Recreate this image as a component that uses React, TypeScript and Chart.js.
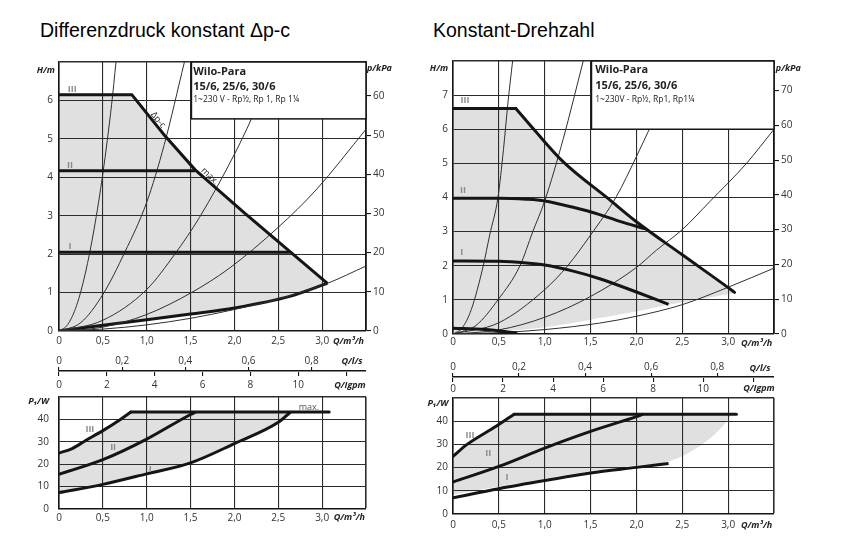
import React, { useEffect, useRef } from 'react';
import { Chart, registerables } from 'chart.js';

Chart.register(...registerables);

type Pt = [number, number];

// ================= DATA =================
// Q in m³/h, H in m, P1 in W
// ---- Left panel (Differenzdruck konstant Δp-c), head ----
const L_H_III: Pt[] = [[0, 6.15], [0.83, 6.15]];
const L_H_DPC: Pt[] = [[0.83, 6.15], [1.2, 5.1], [1.55, 4.2], [2.1, 3.1], [2.63, 2.07], [3.06, 1.24]];
const L_H_II: Pt[] = [[0, 4.17], [1.55, 4.17]];
const L_H_I: Pt[] = [[0, 2.05], [2.63, 2.05]];
const L_H_MIN: Pt[] = [[0, 0], [0.5, 0.15], [1.0, 0.29], [1.5, 0.44], [2.0, 0.6], [2.63, 0.9], [3.06, 1.24]];
const L_SYS_1: Pt[] = [[0, 0], [0.1, 0.17], [0.2, 0.66], [0.3, 1.5], [0.4, 2.65], [0.5, 4.1], [0.6, 5.9], [0.65, 7.0]];
const L_SYS_2: Pt[] = [[0, 0], [0.25, 0.22], [0.5, 0.95], [0.75, 2.05], [1.0, 3.35], [1.2, 4.85], [1.43, 7.0]];
const L_SYS_3: Pt[] = [[0, 0], [0.5, 0.28], [1.0, 1.08], [1.32, 2.0], [1.6, 2.95], [2.0, 4.6], [2.19, 5.5], [2.47, 7.0]];
const L_SYS_4: Pt[] = [[0, 0], [0.5, 0.1], [1.0, 0.43], [1.51, 1.0], [1.94, 1.63], [2.5, 2.7], [2.93, 3.67], [3.5, 5.25]];
const L_SYS_5: Pt[] = [[0, 0], [0.5, 0.05], [1.0, 0.16], [1.5, 0.33], [2.0, 0.56], [2.59, 0.89], [3.06, 1.24], [3.5, 1.69]];

// ---- Left panel, power input ----
const L_P_III: Pt[] = [[0, 25], [0.15, 27], [0.3, 30.5], [0.5, 35], [0.7, 40], [0.82, 43.3]];
const L_P_MAX: Pt[] = [[0.82, 43.3], [3.08, 43.3]];
const L_P_II: Pt[] = [[0, 15.5], [0.5, 22], [1.0, 31.2], [1.5, 42.2], [1.56, 43.3]];
const L_P_I: Pt[] = [[0, 7.3], [0.5, 11], [1.0, 15.7], [1.5, 20.6], [2.0, 29.2], [2.5, 38.7], [2.64, 43.3]];

// ---- Right panel (Konstant-Drehzahl), head ----
const R_H_III: Pt[] = [[0, 6.61], [0.685, 6.61]];
const R_H_MAX: Pt[] = [[0.685, 6.61], [0.89, 5.97], [1.2, 5.05], [1.7, 3.95], [2.0, 3.29], [2.5, 2.32], [3.0, 1.36], [3.07, 1.22]];
const R_H_II: Pt[] = [[0, 3.98], [0.5, 3.98], [0.8, 3.95], [1.0, 3.9], [1.3, 3.72], [1.6, 3.5], [1.82, 3.3], [2.1, 3.08]];
const R_H_I: Pt[] = [[0, 2.14], [0.5, 2.13], [0.8, 2.08], [1.0, 2.02], [1.3, 1.85], [1.6, 1.62], [2.0, 1.23], [2.35, 0.87]];
const R_H_ZERO: Pt[] = [[0, 0.17], [0.35, 0.13], [0.7, 0.03]];
const R_H_AREA_LOW: Pt[] = [[0, 0.05], [0.5, 0.08], [1.0, 0.2], [1.6, 0.47], [2.0, 0.66], [2.35, 0.86], [2.7, 1.02], [3.07, 1.2]];
const R_SYS_1: Pt[] = [[0, 0], [0.1, 0.18], [0.2, 0.72], [0.33, 2.0], [0.4, 2.9], [0.49, 4.0], [0.55, 5.4], [0.6, 6.8], [0.65, 8.0]];
const R_SYS_2: Pt[] = [[0, 0], [0.25, 0.25], [0.49, 1.0], [0.73, 2.0], [0.87, 3.0], [1.0, 3.9], [1.2, 5.7], [1.42, 8.0]];
const R_SYS_3: Pt[] = [[0, 0], [0.5, 0.33], [1.0, 1.3], [1.25, 2.0], [1.5, 2.9], [1.78, 4.02], [2.0, 5.2], [2.13, 5.94], [2.3, 6.9], [2.48, 8.0]];
const R_SYS_4: Pt[] = [[0, 0], [0.5, 0.12], [1.0, 0.49], [1.5, 1.1], [2.0, 1.95], [2.22, 2.46], [2.5, 3.06], [2.8, 3.88], [3.2, 5.0], [3.5, 6.0]];
const R_SYS_5: Pt[] = [[0, 0], [0.5, 0.04], [1.0, 0.13], [1.6, 0.32], [2.0, 0.52], [2.5, 0.86], [3.0, 1.37], [3.5, 1.93]];

// ---- Right panel, power input ----
const R_P_III: Pt[] = [[0, 24.8], [0.15, 29.9], [0.47, 37.8], [0.666, 43]];
const R_P_MAX: Pt[] = [[0.666, 43], [3.09, 43]];
const R_P_II: Pt[] = [[0, 13.8], [0.5, 20.5], [1.0, 28.4], [1.5, 35.6], [2.0, 42], [2.07, 43]];
const R_P_I: Pt[] = [[0, 7], [0.5, 10.9], [1.0, 14.4], [1.5, 17.7], [2.0, 20.1], [2.35, 21.8]];
const R_P_AREA_LOW: Pt[] = [[0, 8.3], [0.5, 11.8], [1.0, 15.2], [1.5, 18.4], [2.0, 20.9], [2.35, 22.6], [2.6, 27], [2.8, 32.5], [2.97, 39.2], [3.04, 43]];

// ---- Axis ranges / unit conversions ----
const Q_MAX = 3.5;
const L_H_MAX = 7;
const R_H_MAX_AX = 8;
const P_MAX = 50;
const KPA_PER_M = 9.81;
const LS_PER_M3H = 1 / 3.6;
const IGPM_PER_M3H = 3.666;

// ================= STYLE =================
const INK = '#151515';
const THIN_C = '#303030';
const GRID_C = '#2c2c2c';
const GRAY = '#e0e0e0';
const LABEL_GRAY = '#8a8a8a';
const TICK_C = '#333';
const FONT = '"Open Sans", "DejaVu Sans", sans-serif';
const TICK_FONT = { family: FONT, size: 10 };
const AX_F = `italic bold 9px ${FONT}`;
const ROMAN_F = `bold 9px ${FONT}`;
const SMALL_F = `9px ${FONT}`;
const BOX_B = `bold 11px ${FONT}`;
const BOX_S = `8.5px ${FONT}`;

type Area = { l: number; t: number; r: number; b: number };
type Margins = { l: number; r: number; t: number; b: number };
type Ann = { t: string; x: number; y: number; f: string; c?: string; rot?: number; al?: CanvasTextAlign; xs?: string; ys?: string };
type Box = { x0: number; x1: number; y0: number; y1: number };

const fmtDec = (v: number) => (Math.abs(v) < 1e-9 ? '0' : (Math.round(v * 10) / 10).toFixed(1).replace('.', ','));

const pts = (a: Pt[]) => a.map(([x, y]) => ({ x, y }));
const thick = (a: Pt[], extra: any = {}) => ({
  data: pts(a), borderColor: INK, borderWidth: 3, pointRadius: 0,
  tension: 0, fill: false, borderJoinStyle: 'miter', borderCapStyle: 'butt', ...extra,
});
const curve = (a: Pt[], extra: any = {}) => thick(a, { cubicInterpolationMode: 'monotone', ...extra });
const thin = (a: Pt[]) => ({
  data: pts(a), borderColor: THIN_C, borderWidth: 1, pointRadius: 0, fill: false, cubicInterpolationMode: 'monotone',
});
const hidden = (a: Pt[], extra: any = {}) => ({
  data: pts(a), borderColor: 'transparent', backgroundColor: GRAY, borderWidth: 0, pointRadius: 0, fill: false,
  cubicInterpolationMode: 'monotone', ...extra,
});

// Grey operating area: the upper envelope (hidden, straight segments) is filled down to the
// lower boundary, which is placed last so its curve is prepared before the fill is painted.
function withArea(lines: any[], upper: Pt[], lower: any) {
  const target = lines.length + 1;
  const up = hidden(upper, { cubicInterpolationMode: 'default', tension: 0, fill: target });
  return [up, ...lines, lower];
}

function annotate(anns: Ann[], box?: Box) {
  return {
    id: 'annotate',
    afterDatasetsDraw(chart: any) {
      if (!box) return;
      const { ctx, scales } = chart;
      const l = scales.x.getPixelForValue(box.x0);
      const r = scales.x.getPixelForValue(box.x1);
      const t = scales.y.getPixelForValue(box.y1);
      const b = scales.y.getPixelForValue(box.y0);
      ctx.save();
      ctx.fillStyle = '#fff';
      ctx.fillRect(l, t, r - l, b - t);
      ctx.strokeStyle = INK;
      ctx.lineWidth = 1.5;
      ctx.strokeRect(l, t, r - l, b - t);
      ctx.restore();
    },
    afterDraw(chart: any) {
      const { ctx, scales, chartArea } = chart;
      for (const a of anns) {
        const px = scales[a.xs || 'x'].getPixelForValue(a.x);
        const py = a.ys === 'px' ? chartArea.top + a.y : scales[a.ys || 'y'].getPixelForValue(a.y);
        ctx.save();
        ctx.translate(px, py);
        if (a.rot) ctx.rotate((a.rot * Math.PI) / 180);
        ctx.font = a.f;
        ctx.fillStyle = a.c || '#222';
        ctx.textAlign = a.al || 'center';
        ctx.textBaseline = 'middle';
        ctx.fillText(a.t, 0, 0);
        ctx.restore();
      }
    },
  };
}

const frameW = (max: number) => (ctx: any) => (ctx.tick && Math.abs(ctx.tick.value - max) < 1e-9 ? 1.6 : 1.1);

function xAxisQ(m: Margins, pad: number) {
  return {
    type: 'linear', position: 'bottom', min: 0, max: Q_MAX,
    ticks: {
      stepSize: 0.5, autoSkip: false, maxRotation: 0, padding: pad, font: TICK_FONT, color: TICK_C,
      callback: (v: number) => (Math.abs(v - Q_MAX) < 1e-9 ? '' : fmtDec(v)),
    },
    grid: { color: GRID_C, lineWidth: frameW(Q_MAX), drawTicks: false },
    border: { display: true, color: INK, width: 1.6 },
    afterFit: (s: any) => { s.height = m.b; },
  };
}

function yAxisL(max: number, step: number, m: Margins, pad: number) {
  return {
    type: 'linear', position: 'left', min: 0, max,
    ticks: {
      stepSize: step, autoSkip: false, padding: pad, font: TICK_FONT, color: TICK_C,
      callback: (v: number) => (Math.abs(v - max) < 1e-9 ? '' : String(v)),
    },
    grid: { color: GRID_C, lineWidth: frameW(max), drawTicks: false },
    border: { display: true, color: INK, width: 1.6 },
    afterFit: (s: any) => { s.width = m.l; },
  };
}

function yAxisKpa(hMax: number, m: Margins) {
  return {
    type: 'linear', position: 'right', min: 0, max: hMax * KPA_PER_M,
    ticks: { stepSize: 10, includeBounds: false, autoSkip: false, padding: 2, font: TICK_FONT, color: TICK_C },
    grid: { drawOnChartArea: false, drawTicks: true, tickLength: 5, color: INK, lineWidth: 1.1 },
    border: { display: true, color: INK, width: 1.6 },
    afterFit: (s: any) => { s.width = m.r; },
  };
}

const basePlugins = { legend: { display: false }, tooltip: { enabled: false }, filler: { drawTime: 'beforeDraw' } };

function headConfig(datasets: any[], hMax: number, m: Margins, xPad: number, yPad: number, anns: Ann[], box: Box) {
  return {
    type: 'line',
    data: { datasets },
    options: {
      responsive: false, animation: false, devicePixelRatio: 1,
      layout: { padding: { top: m.t, left: 0, right: 0, bottom: 0 } },
      plugins: basePlugins,
      scales: { x: xAxisQ(m, xPad), y: yAxisL(hMax, 1, m, yPad), y2: yAxisKpa(hMax, m) },
    },
    plugins: [annotate(anns, box)],
  };
}

function powerConfig(datasets: any[], m: Margins, xPad: number, yPad: number, anns: Ann[]) {
  return {
    type: 'line',
    data: { datasets },
    options: {
      responsive: false, animation: false, devicePixelRatio: 1,
      layout: { padding: { top: m.t, left: 0, right: m.r, bottom: 0 } },
      plugins: basePlugins,
      scales: { x: xAxisQ(m, xPad), y: yAxisL(P_MAX, 10, m, yPad) },
    },
    plugins: [annotate(anns)],
  };
}

function stripConfig(m: Margins, padTop: number, padBottom: number, anns: Ann[]) {
  return {
    type: 'line',
    data: { datasets: [] },
    options: {
      responsive: false, animation: false, devicePixelRatio: 1,
      layout: { padding: { top: 0, left: m.l, right: m.r, bottom: 0 } },
      plugins: basePlugins,
      scales: {
        ls: {
          type: 'linear', axis: 'x', position: 'top', min: 0, max: Q_MAX * LS_PER_M3H,
          ticks: { stepSize: 0.2, includeBounds: false, autoSkip: false, maxRotation: 0, padding: padTop, font: TICK_FONT, color: TICK_C, callback: (v: number) => fmtDec(v) },
          grid: { drawOnChartArea: false, drawTicks: true, tickLength: 4, color: INK, lineWidth: 1.1 },
          border: { display: true, color: INK, width: 1.5 },
          afterFit: (s: any) => { s.height = m.t; },
        },
        gpm: {
          type: 'linear', axis: 'x', position: 'bottom', min: 0, max: Q_MAX * IGPM_PER_M3H,
          ticks: { stepSize: 2, includeBounds: false, autoSkip: false, maxRotation: 0, padding: padBottom, font: TICK_FONT, color: TICK_C, callback: (v: number) => (v > 11 ? '' : String(v)) },
          grid: { drawOnChartArea: false, drawTicks: true, tickLength: 4, color: INK, lineWidth: 1.1 },
          border: { display: false },
          afterFit: (s: any) => { s.height = m.b; },
        },
      },
    },
    plugins: [annotate(anns)],
  };
}

// ================= LAYOUT / ANNOTATIONS =================
const UL_AREA: Area = { l: 59, t: 62, r: 366, b: 331 };
const LS_AREA: Area = { l: 59, t: 371, r: 366, b: 372 };
const LL_AREA: Area = { l: 59, t: 393, r: 366, b: 509 };
const UR_AREA: Area = { l: 453, t: 61, r: 774, b: 334 };
const RS_AREA: Area = { l: 453, t: 377, r: 774, b: 378 };
const LR_AREA: Area = { l: 453, t: 398, r: 774, b: 514 };

const M_HEAD: Margins = { l: 45, r: 45, t: 12, b: 24 };
const M_POW: Margins = { l: 45, r: 45, t: 12, b: 22 };
const M_STRIP: Margins = { l: 45, r: 45, t: 18, b: 18 };

const UL_BOX: Box = { x0: 1.51, x1: Q_MAX, y0: 5.52, y1: L_H_MAX };
const UR_BOX: Box = { x0: 1.51, x1: Q_MAX, y0: 6.0, y1: R_H_MAX_AX };

const UL_ANN: Ann[] = [
  { t: 'H/m', x: -0.15, y: 6.79, f: AX_F },
  { t: 'p/kPa', x: 3.51, y: 6.84, f: AX_F, al: 'left' },
  { t: 'Q/m³/h', x: 3.3, y: -0.26, f: AX_F },
  { t: 'III', x: 0.15, y: 6.29, f: ROMAN_F, c: LABEL_GRAY },
  { t: 'II', x: 0.125, y: 4.32, f: ROMAN_F, c: LABEL_GRAY },
  { t: 'I', x: 0.125, y: 2.19, f: ROMAN_F, c: LABEL_GRAY },
  { t: 'Δp-c', x: 1.13, y: 5.49, f: SMALL_F, rot: 50 },
  { t: 'max.', x: 1.72, y: 4.03, f: SMALL_F, rot: 44 },
  { t: 'Wilo-Para', x: 1.53, y: 6.75, f: BOX_B, al: 'left' },
  { t: '15/6, 25/6, 30/6', x: 1.53, y: 6.36, f: BOX_B, al: 'left' },
  { t: '1~230 V - Rp½, Rp 1, Rp 1¼', x: 1.53, y: 6.03, f: BOX_S, al: 'left' },
];
const UR_ANN: Ann[] = [
  { t: 'H/m', x: -0.153, y: 7.78, f: AX_F },
  { t: 'p/kPa', x: 3.52, y: 7.78, f: AX_F, al: 'left' },
  { t: 'Q/m³/h', x: 3.31, y: -0.29, f: AX_F },
  { t: 'III', x: 0.13, y: 6.83, f: ROMAN_F, c: LABEL_GRAY },
  { t: 'II', x: 0.11, y: 4.22, f: ROMAN_F, c: LABEL_GRAY },
  { t: 'I', x: 0.095, y: 2.38, f: ROMAN_F, c: LABEL_GRAY },
  { t: 'Wilo-Para', x: 1.55, y: 7.74, f: BOX_B, al: 'left' },
  { t: '15/6, 25/6, 30/6', x: 1.55, y: 7.28, f: BOX_B, al: 'left' },
  { t: '1~230V - Rp½, Rp1, Rp1¼', x: 1.55, y: 6.88, f: BOX_S, al: 'left' },
];
const LL_ANN: Ann[] = [
  { t: 'P₁/W', x: -0.233, y: 47.8, f: AX_F },
  { t: 'Q/m³/h', x: 3.31, y: -3.9, f: AX_F },
  { t: 'III', x: 0.352, y: 35.5, f: ROMAN_F, c: LABEL_GRAY },
  { t: 'II', x: 0.617, y: 27.6, f: ROMAN_F, c: LABEL_GRAY },
  { t: 'I', x: 1.04, y: 17.8, f: ROMAN_F, c: LABEL_GRAY },
  { t: 'max.', x: 2.85, y: 45.2, f: SMALL_F, c: '#555' },
];
const LR_ANN: Ann[] = [
  { t: 'P₁/W', x: -0.164, y: 47.8, f: AX_F },
  { t: 'Q/m³/h', x: 3.31, y: -5.0, f: AX_F },
  { t: 'III', x: 0.185, y: 34, f: ROMAN_F, c: LABEL_GRAY },
  { t: 'II', x: 0.385, y: 26.2, f: ROMAN_F, c: LABEL_GRAY },
  { t: 'I', x: 0.59, y: 15.6, f: ROMAN_F, c: LABEL_GRAY },
];
const LS_ANN: Ann[] = [
  { t: 'Q/l/s', x: 0.928, xs: 'ls', y: -10, ys: 'px', f: AX_F },
  { t: 'Q/Igpm', x: 12.16, xs: 'gpm', y: 14, ys: 'px', f: AX_F },
];
const RS_ANN: Ann[] = [
  { t: 'Q/l/s', x: 0.93, xs: 'ls', y: -9, ys: 'px', f: AX_F },
  { t: 'Q/Igpm', x: 12.23, xs: 'gpm', y: 11, ys: 'px', f: AX_F },
];

// ================= CHART BUILDERS =================
const makeUL = (m: Margins) =>
  headConfig(
    withArea(
      [
        thick([...L_H_III, ...L_H_DPC.slice(1)]),
        thick(L_H_II),
        thick(L_H_I),
        ...[L_SYS_1, L_SYS_2, L_SYS_3, L_SYS_4, L_SYS_5].map(thin),
      ],
      [...L_H_III, ...L_H_DPC.slice(1)],
      curve(L_H_MIN),
    ),
    L_H_MAX, m, 4, 6, UL_ANN, UL_BOX,
  );

const makeUR = (m: Margins) =>
  headConfig(
    withArea(
      [
        thick(R_H_III, { borderCapStyle: 'round' }),
        curve(R_H_MAX, { borderCapStyle: 'round' }),
        curve(R_H_II),
        curve(R_H_I),
        curve(R_H_ZERO),
        ...[R_SYS_1, R_SYS_2, R_SYS_3, R_SYS_4, R_SYS_5].map(thin),
      ],
      [...R_H_III, ...R_H_MAX.slice(1)],
      hidden(R_H_AREA_LOW),
    ),
    R_H_MAX_AX, m, 2, 5, UR_ANN, UR_BOX,
  );

const makeLL = (m: Margins) =>
  powerConfig(
    withArea(
      [curve(L_P_III, { borderCapStyle: 'round' }), thick(L_P_MAX, { borderCapStyle: 'round' }), curve(L_P_II)],
      [...L_P_III, ...L_P_MAX.slice(1)],
      curve(L_P_I),
    ),
    m, 3, 10, LL_ANN,
  );

const makeLR = (m: Margins) =>
  powerConfig(
    withArea(
      [curve(R_P_III, { borderCapStyle: 'round' }), thick(R_P_MAX, { borderCapStyle: 'round' }), curve(R_P_II), curve(R_P_I)],
      [...R_P_III, ...R_P_MAX.slice(1)],
      hidden(R_P_AREA_LOW),
    ),
    m, 5, 5, LR_ANN,
  );

const makeLS = (m: Margins) => stripConfig(m, 0, 3, LS_ANN);
const makeRS = (m: Margins) => stripConfig(m, 0, 1, RS_ANN);

function ChartBox({ area, m, make }: { area: Area; m: Margins; make: (m: Margins) => any }) {
  const ref = useRef<HTMLCanvasElement>(null);
  useEffect(() => {
    const c = new Chart(ref.current as HTMLCanvasElement, make(m));
    return () => c.destroy();
  }, []);
  const w = area.r - area.l + m.l + m.r;
  const h = area.b - area.t + m.t + m.b;
  return (
    <canvas
      ref={ref}
      width={w}
      height={h}
      style={{ position: 'absolute', left: area.l - m.l, top: area.t - m.t, width: w, height: h }}
    />
  );
}

const titleStyle: React.CSSProperties = {
  position: 'absolute',
  top: 20,
  fontFamily: '"Liberation Sans", Arial, sans-serif',
  fontSize: 19.5,
  lineHeight: '20px',
  color: '#000',
  whiteSpace: 'nowrap',
};

export default function App() {
  return (
    <div style={{ position: 'absolute', left: 0, top: 0, width: 847, height: 549, background: '#fff', overflow: 'hidden' }}>
      <div style={{ ...titleStyle, left: 40 }}>Differenzdruck konstant Δp-c</div>
      <div style={{ ...titleStyle, left: 433 }}>Konstant-Drehzahl</div>
      <ChartBox area={UL_AREA} m={M_HEAD} make={makeUL} />
      <ChartBox area={LL_AREA} m={M_POW} make={makeLL} />
      <ChartBox area={LS_AREA} m={M_STRIP} make={makeLS} />
      <ChartBox area={UR_AREA} m={M_HEAD} make={makeUR} />
      <ChartBox area={LR_AREA} m={M_POW} make={makeLR} />
      <ChartBox area={RS_AREA} m={M_STRIP} make={makeRS} />
    </div>
  );
}
